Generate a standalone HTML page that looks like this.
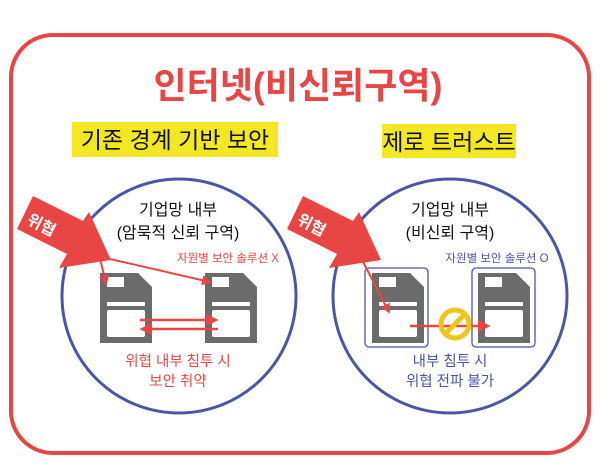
<!DOCTYPE html>
<html><head><meta charset="utf-8"><style>
body{margin:0;background:#fff}
svg{display:block}
text{font-family:"Liberation Sans","Noto Sans CJK KR",sans-serif}
</style></head><body>
<svg width="600" height="473" viewBox="0 0 600 473" xmlns="http://www.w3.org/2000/svg">
<defs>
<marker id="ar" markerWidth="5" markerHeight="5" refX="4" refY="2.5" orient="auto" markerUnits="strokeWidth"><path d="M0,0 L5,2.5 L0,5 z" fill="#e84545"/></marker>
<g id="fl"><path d="M0,0 H38 L52,14 V70 H0 Z" fill="#6b6b6b"/><rect x="7" y="4" width="17" height="10" fill="#fff"/><rect x="7" y="29" width="38" height="4" fill="#fff"/><rect x="7" y="37" width="38" height="27" rx="2" fill="#fff"/></g>
<g id="arw"><polygon points="33,196 83,221 89,212 111,260 59,268 67,254 17,229" fill="#e84545"/></g>
</defs>
<rect x="11" y="35" width="578" height="418" rx="42" fill="none" stroke="#e84545" stroke-width="4"/>
<text x="298" y="98" text-anchor="middle" font-size="36" font-weight="bold" fill="#e84545">인터넷(비신뢰구역)</text>
<rect x="72" y="122" width="206" height="35" fill="#f3e723"/>
<text x="175" y="148" text-anchor="middle" font-size="23" fill="#111">기존 경계 기반 보안</text>
<rect x="382" y="124" width="134" height="34" fill="#f3e723"/>
<text x="449" y="150" text-anchor="middle" font-size="23" fill="#111">제로 트러스트</text>

<circle cx="179" cy="296" r="117" fill="none" stroke="#4a55a6" stroke-width="3"/>
<circle cx="450" cy="296" r="117" fill="none" stroke="#4a55a6" stroke-width="3"/>

<text x="178" y="215" text-anchor="middle" font-size="16" fill="#111">기업망 내부</text>
<text x="178" y="238" text-anchor="middle" font-size="16" fill="#111">(암묵적 신뢰 구역)</text>
<text x="228" y="262" text-anchor="middle" font-size="11.5" fill="#e84545">자원별 보안 솔루션 X</text>
<use href="#fl" x="100" y="273"/>
<use href="#fl" x="205" y="273"/>
<line x1="110" y1="259" x2="210" y2="282" stroke="#e84545" stroke-width="2" marker-end="url(#ar)"/>
<line x1="100" y1="258" x2="106" y2="284" stroke="#e84545" stroke-width="2" marker-end="url(#ar)"/>
<line x1="140" y1="320" x2="216" y2="320" stroke="#e84545" stroke-width="2.5" marker-end="url(#ar)"/>
<line x1="218" y1="329" x2="142" y2="329" stroke="#e84545" stroke-width="2.5" marker-end="url(#ar)"/>
<text x="178" y="366" text-anchor="middle" font-size="14.5" fill="#e84545">위협 내부 침투 시</text>
<text x="178" y="386" text-anchor="middle" font-size="14.5" fill="#e84545">보안 취약</text>
<use href="#arw"/>
<text x="0" y="0" font-size="16" font-weight="bold" fill="#fff" transform="translate(41,231) rotate(27) translate(-17,0)">위협</text>

<text x="450" y="215" text-anchor="middle" font-size="16" fill="#111">기업망 내부</text>
<text x="450" y="238" text-anchor="middle" font-size="16" fill="#111">(비신뢰 구역)</text>
<text x="497" y="262" text-anchor="middle" font-size="11.5" fill="#4a55a6">자원별 보안 솔루션 O</text>
<rect x="365" y="268" width="63" height="79" rx="4" fill="none" stroke="#4a55a6" stroke-width="1.3"/>
<rect x="472" y="268" width="63" height="79" rx="4" fill="none" stroke="#4a55a6" stroke-width="1.3"/>
<use href="#fl" x="372" y="273"/>
<use href="#fl" x="478" y="273"/>
<line x1="360" y1="256" x2="389" y2="312" stroke="#e84545" stroke-width="2" marker-end="url(#ar)"/>
<line x1="410" y1="326" x2="488" y2="326" stroke="#e84545" stroke-width="2.5" marker-end="url(#ar)"/>
<circle cx="455" cy="324" r="14" fill="none" stroke="#f0c419" stroke-width="5"/>
<line x1="445" y1="334" x2="465" y2="314" stroke="#f0c419" stroke-width="5"/>
<text x="450" y="366" text-anchor="middle" font-size="14.5" fill="#4a55a6">내부 침투 시</text>
<text x="450" y="386" text-anchor="middle" font-size="14.5" fill="#4a55a6">위협 전파 불가</text>
<use href="#arw" x="270" y="0"/>
<text x="0" y="0" font-size="16" font-weight="bold" fill="#fff" transform="translate(311,231) rotate(27) translate(-17,0)">위협</text>
</svg>
</body></html>
